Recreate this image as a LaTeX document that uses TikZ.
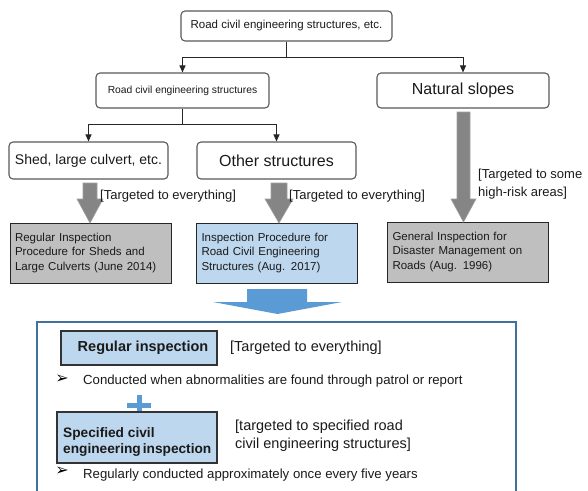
\documentclass[tikz,border=0pt]{standalone}
\usepackage{fontspec}
\setmainfont{Liberation Sans}
\newfontfamily\symfont{DejaVu Sans}
\usetikzlibrary{arrows.meta}
\definecolor{boxline}{HTML}{595959}
\definecolor{grayfill}{HTML}{BFBFBF}
\definecolor{lblue}{HTML}{BDD7EE}
\definecolor{mblue}{HTML}{5B9BD5}
\definecolor{frameblue}{HTML}{41719C}
\definecolor{arrowgray}{HTML}{858585}
\definecolor{txt}{HTML}{1A1A1A}
\begin{document}
\begin{tikzpicture}[x=1pt,y=-1pt,
  rbox/.style={draw=boxline, line width=1.1pt, rounded corners=4pt, fill=white, inner sep=0pt, align=center, text=txt},
  conn/.style={draw=black!85, line width=1pt, -{Triangle[length=7pt,width=6pt]}},
  graybox/.style={draw=black!85, line width=1pt, fill=grayfill, inner xsep=5pt, inner ysep=0pt, text width=151pt, minimum height=60pt, align=left, font=\fontsize{11.5}{14.5}\selectfont, text=txt},
  bluebox/.style={draw=black!80, line width=1.1pt, fill=lblue, inner sep=0pt, text=txt},
  garrow/.style={fill=arrowgray, draw=gray!75, line width=0.6pt},
  lbl/.style={font=\fontsize{13}{18}\selectfont, align=left, inner sep=0pt, text=txt},
  lbl2/.style={font=\fontsize{14.5}{18}\selectfont, align=left, inner sep=0pt, text=txt},
  bul/.style={font=\symfont\fontsize{16}{16}\selectfont, inner sep=0pt, text=black},
  btxt/.style={font=\fontsize{13.2}{15}\selectfont, inner sep=0pt, anchor=west, text=txt}
]
\useasboundingbox (0,0) rectangle (588,490);

% top level
\node[rbox, minimum width=211pt, minimum height=30pt, font=\fontsize{11.5}{13}\selectfont] (top) at (286.5,26) {Road civil engineering structures, etc.};
\node[rbox, minimum width=173pt, minimum height=35pt, font=\fontsize{10.3}{12}\selectfont] (rces) at (182.5,90.5) {Road civil engineering structures};
\node[rbox, minimum width=172pt, minimum height=35pt, font=\fontsize{16}{18}\selectfont] (nat) at (463,90.5) {Natural slopes};
\node[rbox, minimum width=159pt, minimum height=37pt, font=\fontsize{14}{16}\selectfont] (shed) at (88.5,160.5) {Shed, large culvert, etc.};
\node[rbox, minimum width=159pt, minimum height=37pt, font=\fontsize{16}{18}\selectfont] (other) at (276.5,160.5) {Other structures};

\draw[conn] (top.south) -- ++(0,16) -| (rces.north);
\draw[conn] (top.south) -- ++(0,16) -| (nat.north);
\draw[conn] (rces.south) -- ++(0,16) -| (shed.north);
\draw[conn] (rces.south) -- ++(0,16) -| (other.north);

% procedure boxes
\node[graybox] (proc1) at (90.5,253) {Regular Inspection\\Procedure for Sheds and\\Large Culverts (June 2014)};
\node[graybox, fill=lblue] (proc2) at (277,253) {Inspection Procedure for\\Road Civil Engineering\\Structures (Aug. 2017)};
\node[graybox] (proc3) at (468,252) {General Inspection for\\Disaster Management on\\Roads (Aug. 1996)};

% gray block arrows
\path[garrow] (83,183) -- (97,183) -- (97,199) -- (103,199) -- (90,223) -- (77,199) -- (83,199) -- cycle;
\path[garrow] (271,183) -- (287,183) -- (287,199) -- (293,199) -- (279,223) -- (265,199) -- (271,199) -- cycle;
\path[garrow] (457,112) -- (470,112) -- (470,199) -- (476,199) -- (463.5,222) -- (451,199) -- (457,199) -- cycle;

\node[lbl, anchor=west] (l1) at (100,196) {[Targeted to everything]};
\node[lbl, anchor=west] (l2) at (289,196) {[Targeted to everything]};
\node[lbl, anchor=north west] (l3) at (478,169) {[Targeted to some\\high-risk areas]};

% blue arrow
\path[fill=mblue] (247,289) -- (307,289) -- (307,302) -- (342,302) -- (277.5,314) -- (213,302) -- (247,302) -- cycle;

% frame
\draw[frameblue, line width=1.8pt] (37,495) -- (37,322) -- (516,322) -- (516,495);

\node[bluebox, minimum width=156pt, minimum height=34pt, font=\bfseries\fontsize{14.5}{16}\selectfont] (reg) at (139,348) {\hspace*{8pt}Regular inspection};
\node[lbl2, anchor=west] (regl) at (230,348) {[Targeted to everything]};
\node[bul] (b1) at (62,379) {➢};
\node[btxt] (t1) at (83,381) {Conducted when abnormalities are found through patrol or report};

\draw[mblue, line width=5pt] (127,405) -- (151,405);
\draw[mblue, line width=5pt] (139,395) -- (139,415);

\node[bluebox, minimum width=160pt, minimum height=51pt] (spec) at (137,437.5) {};
\node[font=\bfseries\fontsize{13.7}{16}\selectfont, align=left, inner sep=0pt, anchor=west, text=txt] (spect) at (63,442) {Specified civil\\engineering\hspace{2pt}inspection};
\node[lbl2, anchor=west] (specl) at (235,436) {[targeted to specified road\\civil engineering structures]};
\node[bul] (b2) at (62,471) {➢};
\node[btxt] (t2) at (83,475) {Regularly conducted approximately once every five years};
\end{tikzpicture}
\end{document}
